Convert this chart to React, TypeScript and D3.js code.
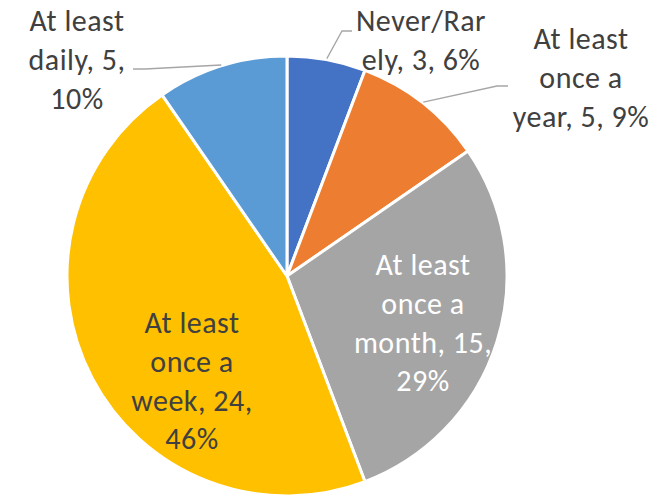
import React from "react";
import * as d3 from "d3";

const categories = ["Never/Rarely", "At least once a year", "At least once a month", "At least once a week", "At least daily"];
const values = [3, 5, 15, 24, 5];
const percentLabels = ["6%", "9%", "29%", "46%", "10%"];
const colors = ["#4472C4", "#ED7D31", "#A5A5A5", "#FFC000", "#5B9BD5"];

// label layout (line breaks, positions, leader lines) — styling only
const labelLayout = [
  { breaks: [9], x: 421, y: 31, outside: true, fill: "#404040", elbow: [[352, 31], [342, 31]] },
  { breaks: [8, 15], x: 581, y: 49, outside: true, fill: "#404040", elbow: [[508, 86], [497, 86]] },
  { breaks: [8, 15, 26], x: 423, y: 275, outside: false, fill: "#FFFFFF", elbow: [] },
  { breaks: [8, 15, 25], x: 192, y: 333, outside: false, fill: "#404040", elbow: [] },
  { breaks: [8, 18], x: 77, y: 31, outside: true, fill: "#404040", elbow: [[133, 69], [145, 69]] },
];

const W = 662, H = 496;
const cx = 287, cy = 276, R = 220;
const FONT = "Carlito, Calibri, Lato, sans-serif";
const FS = 30;
const LH = 38.8;
const LS = 0.5;

function splitLines(s: string, breaks: number[]) {
  const out: string[] = [];
  let prev = 0;
  for (const b of breaks) {
    out.push(s.slice(prev, b).trim());
    prev = b;
  }
  out.push(s.slice(prev).trim());
  return out;
}

export default function App() {
  const pie = d3.pie<number>().sort(null).value((d) => d).startAngle(0).endAngle(2 * Math.PI);
  const arcs = pie(values);
  const arc = d3.arc<d3.PieArcDatum<number>>().innerRadius(0).outerRadius(R);
  const edge = d3.arc<d3.PieArcDatum<number>>().innerRadius(R + 1).outerRadius(R + 1);

  return (
    <svg width={W} height={H} style={{ position: "absolute", left: 0, top: 0, background: "#fff" }}>
      <g transform={`translate(${cx},${cy})`}>
        {arcs.map((a, i) => (
          <path key={i} d={arc(a) || ""} fill={colors[i]} stroke="#fff" strokeWidth={3} strokeLinejoin="round" />
        ))}
      </g>
      {arcs.map((a, i) => {
        const L = labelLayout[i];
        if (!L.outside) return null;
        const [ex, ey] = edge.centroid(a);
        const pts = [...L.elbow, [ex + cx, ey + cy]];
        return (
          <polyline
            key={"l" + i}
            points={pts.map((p) => p.join(",")).join(" ")}
            fill="none"
            stroke="#A6A6A6"
            strokeWidth={1.3}
          />
        );
      })}
      {categories.map((c, i) => {
        const L = labelLayout[i];
        const full = `${c}, ${values[i]}, ${percentLabels[i]}`;
        const lines = splitLines(full, L.breaks);
        return (
          <text
            key={"t" + i}
            x={L.x}
            y={L.y}
            textAnchor="middle"
            fontFamily={FONT}
            fontSize={FS}
            letterSpacing={LS}
            fill={L.fill}
          >
            {lines.map((ln, j) => (
              <tspan key={j} x={L.x} y={L.y + j * LH}>
                {ln}
              </tspan>
            ))}
          </text>
        );
      })}
    </svg>
  );
}
